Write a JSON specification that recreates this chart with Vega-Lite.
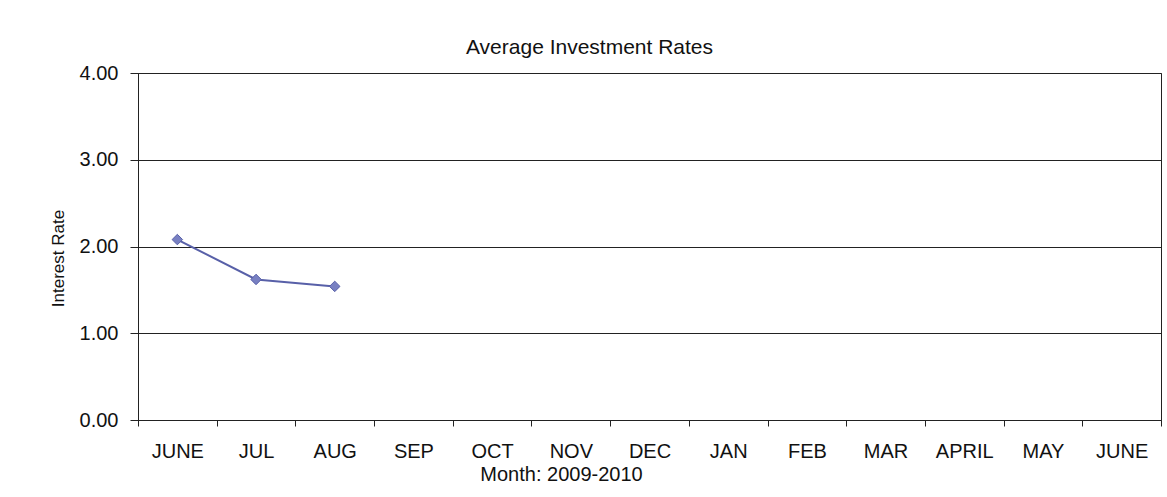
{
  "$schema": "https://vega.github.io/schema/vega-lite/v6.json",
  "width": 1023,
  "height": 347,
  "autosize": {"type": "none"},
  "padding": {"left": 138, "top": 73, "right": 6, "bottom": 77},
  "background": "white",
  "config": {
    "font": "Liberation Sans",
    "view": {"stroke": "#222", "strokeWidth": 1}
  },
  "title": {
    "text": "Average Investment Rates",
    "fontSize": 21,
    "fontWeight": "normal",
    "color": "#111",
    "font": "Liberation Sans",
    "anchor": "middle",
    "dx": -60,
    "dy": 24,
    "baseline": "alphabetic",
    "offset": 12
  },
  "data": {
    "values": [
      {"month": "JUNE 2009", "rate": 2.08},
      {"month": "JUL 2009", "rate": 1.62},
      {"month": "AUG 2009", "rate": 1.54}
    ]
  },
  "encoding": {
    "x": {
      "field": "month",
      "type": "ordinal",
      "sort": null,
      "scale": {
        "domain": ["JUNE 2009", "JUL 2009", "AUG 2009", "SEP 2009", "OCT 2009", "NOV 2009", "DEC 2009", "JAN 2010", "FEB 2010", "MAR 2010", "APRIL 2010", "MAY 2010", "JUNE 2010"],
        "paddingInner": 0,
        "paddingOuter": 0
      },
      "axis": {
        "title": "Month: 2009-2010",
        "titleFontSize": 20,
        "titleFontWeight": "normal",
        "titleColor": "#111",
        "titleBaseline": "alphabetic",
        "titleX": 423,
        "titleY": 60,
        "titleAnchor": null,
        "labelAngle": 0,
        "labelExpr": "isString(datum.value) ? split(datum.value, ' ')[0] : ''",
        "labelFontSize": 20,
        "labelColor": "#111",
        "labelBaseline": "alphabetic",
        "labelPadding": 31,
        "tickBand": "extent",
        "tickSize": 6,
        "tickColor": "#222",
        "domainColor": "#222",
        "grid": false
      }
    },
    "y": {
      "field": "rate",
      "type": "quantitative",
      "scale": {"domain": [0, 4], "nice": false, "zero": true},
      "axis": {
        "title": "Interest Rate",
        "titleFontSize": 17,
        "titleFontWeight": "normal",
        "titleColor": "#111",
        "titleBaseline": "alphabetic",
        "titleAngle": -90,
        "titleAlign": "center",
        "titleX": -75,
        "titleY": 185,
        "values": [0, 1, 2, 3, 4],
        "format": ".2f",
        "labelFontSize": 20,
        "labelColor": "#111",
        "labelPadding": 12,
        "tickSize": 8,
        "tickColor": "#222",
        "domainColor": "#222",
        "grid": true,
        "gridColor": "#222",
        "gridOpacity": 1,
        "gridWidth": 1
      }
    }
  },
  "layer": [
    {
      "mark": {"type": "line", "color": "#5860a8", "strokeWidth": 2}
    },
    {
      "mark": {"type": "point", "shape": "diamond", "filled": true, "size": 110, "color": "#7880c2", "stroke": "#5860a8", "strokeWidth": 1, "opacity": 1}
    }
  ]
}
